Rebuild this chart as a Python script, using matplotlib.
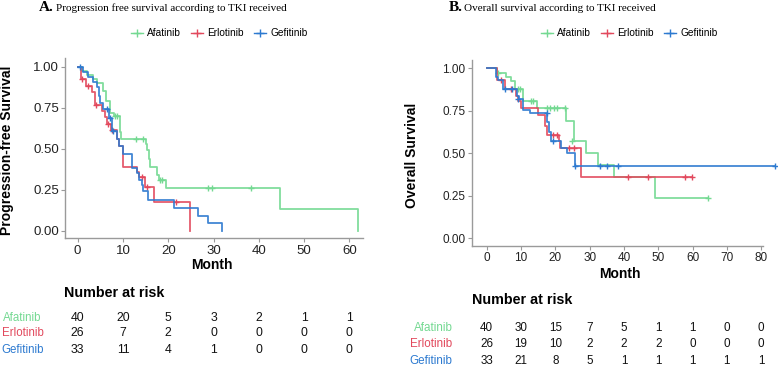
import matplotlib
matplotlib.use('Agg')
import matplotlib.pyplot as plt
from matplotlib.lines import Line2D
from matplotlib.transforms import blended_transform_factory

W, H = 778, 367

groups = ['Afatinib', 'Erlotinib', 'Gefitinib']
colors = ['#74D992', '#E2495D', '#2D7AD0']

# ---------------- Panel A: progression-free survival ----------------
pfs_afa_t = [0, 0.9, 2.0, 3.4, 4.2, 5.6, 6.2, 7.1, 8.0, 9.3, 9.6, 15.0, 15.3, 15.7, 16.0, 17.5, 17.9, 19.4, 44.7, 62.0]
pfs_afa_s = [1.0, 0.975, 0.95, 0.925, 0.90, 0.85, 0.79, 0.72, 0.70, 0.60, 0.56, 0.53, 0.49, 0.44, 0.39, 0.34, 0.31, 0.26, 0.13, 0.0]
pfs_afa_ct = [8.3, 8.6, 12.8, 14.5, 18.2, 18.6, 28.8, 29.7, 38.2]
pfs_afa_cs = [0.70, 0.70, 0.56, 0.56, 0.31, 0.31, 0.26, 0.26, 0.26]

pfs_erl_t = [0, 0.7, 1.8, 3.1, 3.8, 5.3, 6.0, 6.4, 7.3, 8.6, 9.2, 9.9, 13.0, 13.6, 14.9, 16.9, 24.9]
pfs_erl_s = [1.0, 0.923, 0.885, 0.846, 0.769, 0.731, 0.692, 0.654, 0.615, 0.56, 0.52, 0.39, 0.36, 0.33, 0.265, 0.177, 0.0]
pfs_erl_ct = [1.0, 2.2, 4.0, 6.6, 7.6, 14.2, 15.3, 21.8]
pfs_erl_cs = [0.923, 0.885, 0.769, 0.654, 0.615, 0.33, 0.265, 0.177]

pfs_gef_t = [0, 1.2, 2.3, 3.4, 4.2, 4.6, 4.9, 5.7, 6.9, 7.5, 8.6, 9.1, 9.9, 11.9, 13.0, 13.6, 14.1, 14.5, 15.6, 21.3, 26.6, 28.8, 31.8]
pfs_gef_s = [1.0, 0.97, 0.94, 0.91, 0.875, 0.82, 0.78, 0.74, 0.69, 0.61, 0.56, 0.52, 0.47, 0.38, 0.35, 0.31, 0.28, 0.24, 0.185, 0.14, 0.09, 0.045, 0.0]
pfs_gef_ct = [0.5, 6.4, 7.2, 7.8]
pfs_gef_cs = [1.0, 0.74, 0.69, 0.61]

pfs_xticks = [0, 10, 20, 30, 40, 50, 60]
pfs_risk = {
    'Afatinib': [40, 20, 5, 3, 2, 1, 1],
    'Erlotinib': [26, 7, 2, 0, 0, 0, 0],
    'Gefitinib': [33, 11, 4, 1, 0, 0, 0],
}

# ---------------- Panel B: overall survival ----------------
os_afa_t = [0, 3.0, 5.5, 7.0, 8.2, 10.5, 14.8, 23.1, 25.3, 28.9, 32.5, 37.1, 49.1, 64.6]
os_afa_s = [1.0, 0.975, 0.95, 0.925, 0.88, 0.81, 0.765, 0.69, 0.57, 0.50, 0.43, 0.36, 0.235, 0.235]
os_afa_ct = [3.4, 9.2, 9.7, 12.8, 13.4, 17.5, 18.5, 19.5, 20.5, 22.8, 25.0, 64.6]
os_afa_cs = [0.975, 0.88, 0.88, 0.81, 0.81, 0.765, 0.765, 0.765, 0.765, 0.765, 0.57, 0.235]

os_erl_t = [0, 2.9, 5.3, 8.5, 9.2, 9.9, 15.0, 17.0, 17.7, 21.0, 21.4, 27.5, 59.8]
os_erl_s = [1.0, 0.93, 0.88, 0.84, 0.81, 0.765, 0.725, 0.66, 0.61, 0.57, 0.53, 0.36, 0.36]
os_erl_ct = [4.3, 7.0, 19.4, 20.5, 24.1, 25.4, 41.3, 47.1, 57.8, 59.8]
os_erl_cs = [0.93, 0.88, 0.61, 0.61, 0.53, 0.53, 0.36, 0.36, 0.36, 0.36]

os_gef_t = [0, 2.7, 3.3, 4.8, 8.7, 9.5, 10.7, 12.6, 17.6, 18.2, 18.8, 21.6, 23.3, 25.6, 84.0]
os_gef_s = [1.0, 0.95, 0.93, 0.88, 0.84, 0.82, 0.755, 0.735, 0.686, 0.627, 0.57, 0.53, 0.50, 0.425, 0.425]
os_gef_ct = [5.3, 7.3, 9.2, 17.5, 19.2, 25.8, 33.0, 35.0, 38.2, 84.0]
os_gef_cs = [0.88, 0.88, 0.82, 0.735, 0.57, 0.425, 0.425, 0.425, 0.425, 0.425]

os_xticks = [0, 10, 20, 30, 40, 50, 60, 70, 80]
os_risk = {
    'Afatinib': [40, 30, 15, 7, 5, 1, 1, 0, 0],
    'Erlotinib': [26, 19, 10, 2, 2, 2, 0, 0, 0],
    'Gefitinib': [33, 21, 8, 5, 1, 1, 1, 1, 1],
}

yticks = [0, 0.25, 0.5, 0.75, 1.0]
ytick_labels = ['0.00', '0.25', '0.50', '0.75', '1.00']

plt.rcParams['font.family'] = ['Liberation Sans', 'DejaVu Sans']

fig = plt.figure(figsize=(W / 100, H / 100), dpi=100)


def fx(px):
    return px / W


def fy(py):
    return 1 - py / H


def make_axes(l, r, t, b):
    return fig.add_axes([fx(l), fy(b), (r - l) / W, (b - t) / H])


AXCOL = '#9A9A9A'


def style_axes(ax, xticks, xlim, ylim, fs, xbound=None):
    ax.set_xlim(*xlim)
    ax.set_ylim(*ylim)
    for sp in ['top', 'right']:
        ax.spines[sp].set_visible(False)
    for sp in ['left', 'bottom']:
        ax.spines[sp].set_color(AXCOL)
        ax.spines[sp].set_linewidth(1.0)
    if xbound is not None:
        ax.spines['bottom'].set_bounds(*xbound)
    ax.set_xticks(xticks)
    ax.set_yticks(yticks)
    ax.set_yticklabels(ytick_labels)
    ax.tick_params(axis='both', colors=AXCOL, length=3, width=0.8, labelsize=fs,
                   labelcolor='#222222', pad=1.5)
    ax.set_facecolor('white')


def draw_km(ax, t, s, ct, cs, color):
    ax.step(t, s, where='post', color=color, lw=1.3, alpha=0.9, clip_on=False)
    ax.plot(ct, cs, ls='none', marker='+', ms=5, mew=1.0, color=color, clip_on=False)


# ---- Panel A ----
axA = make_axes(65, 363, 58.3, 238.3)
style_axes(axA, pfs_xticks, (-2.8, 63.0), (-0.046, 1.052), 9.5)
draw_km(axA, pfs_afa_t, pfs_afa_s, pfs_afa_ct, pfs_afa_cs, colors[0])
draw_km(axA, pfs_erl_t, pfs_erl_s, pfs_erl_ct, pfs_erl_cs, colors[1])
draw_km(axA, pfs_gef_t, pfs_gef_s, pfs_gef_ct, pfs_gef_cs, colors[2])

# ---- Panel B ----
axB = make_axes(471.7, 777, 60, 245.7)
style_axes(axB, os_xticks, (-4.37, 84.6), (-0.0435, 1.049), 8.5, xbound=(-4.37, 80.6))
draw_km(axB, os_afa_t, os_afa_s, os_afa_ct, os_afa_cs, colors[0])
draw_km(axB, os_erl_t, os_erl_s, os_erl_ct, os_erl_cs, colors[1])
draw_km(axB, os_gef_t, os_gef_s, os_gef_ct, os_gef_cs, colors[2])

# ---- Titles ----
serif = ['Liberation Serif', 'DejaVu Serif']
fig.text(fx(39.3), fy(11), 'A.', family=serif, fontweight='bold', fontsize=11, va='baseline', ha='left')
fig.text(fx(56), fy(11), 'Progression free survival according to TKI received', family=serif,
         fontsize=8, va='baseline', ha='left')
fig.text(fx(448.3), fy(11), 'B.', family=serif, fontweight='bold', fontsize=11, va='baseline', ha='left')
fig.text(fx(464), fy(11), 'Overall survival according to TKI received', family=serif,
         fontsize=8, va='baseline', ha='left')

# ---- Legends ----
handles = [Line2D([0], [0], color=c, lw=1.0, marker='+', ms=6, mew=1.0) for c in colors]
for cx in (219, 629):
    fig.legend(handles, groups, loc='center', bbox_to_anchor=(fx(cx), fy(33.3)), ncol=3,
               frameon=False, fontsize=7.3, handlelength=1.2, handletextpad=0.4,
               columnspacing=1.0, borderaxespad=0, borderpad=0)

# ---- Axis labels ----
fig.text(fx(6.7), fy(150), 'Progression-free Survival', rotation=90, fontsize=10,
         fontweight='bold', ha='center', va='center')
fig.text(fx(411.7), fy(155), 'Overall Survival', rotation=90, fontsize=10,
         fontweight='bold', ha='center', va='center')
fig.text(fx(211.7), fy(265), 'Month', fontsize=10, fontweight='bold', ha='center', va='center')
fig.text(fx(620), fy(274.3), 'Month', fontsize=10, fontweight='bold', ha='center', va='center')

# ---- Risk tables ----
fig.text(fx(64), fy(292.7), 'Number at risk', fontsize=10.3, fontweight='bold', ha='left', va='center')
fig.text(fx(471.7), fy(300), 'Number at risk', fontsize=10.3, fontweight='bold', ha='left', va='center')

trA = blended_transform_factory(axA.transData, fig.transFigure)
trB = blended_transform_factory(axB.transData, fig.transFigure)
rowsA = [318.3, 333.3, 350]
rowsB = [327.7, 344.3, 361]
for g, c, ya, yb in zip(groups, colors, rowsA, rowsB):
    fig.text(fx(22.5), fy(ya), g, color=c, fontsize=8.3, ha='center', va='center')
    for x, v in zip(pfs_xticks, pfs_risk[g]):
        fig.text(x, fy(ya), str(v), transform=trA, fontsize=8.8, ha='center', va='center', color='#111111')
    fig.text(fx(452.5), fy(yb), g, color=c, fontsize=8.4, ha='right', va='center')
    for x, v in zip(os_xticks, os_risk[g]):
        fig.text(x, fy(yb), str(v), transform=trB, fontsize=8.4, ha='center', va='center', color='#111111')

fig.savefig('out.png', dpi=100, facecolor='white')
